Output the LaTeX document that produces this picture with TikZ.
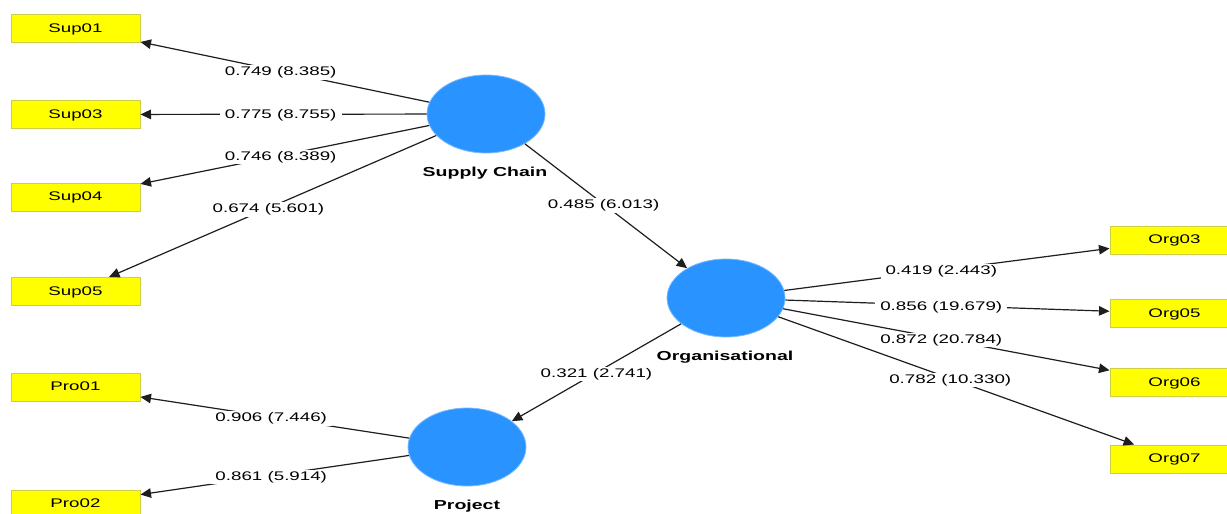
\documentclass[tikz,border=0pt]{standalone}
\usepackage{fontspec}
\setmainfont{Liberation Sans}
\newfontfamily\stretchfont[FakeStretch=1.5]{Liberation Sans}
\usetikzlibrary{shapes.geometric,arrows.meta,calc}
\definecolor{lvblue}{RGB}{41,148,255}
\definecolor{lvedge}{RGB}{120,185,255}
\definecolor{indyel}{RGB}{255,255,0}
\definecolor{indedge}{RGB}{205,205,70}
\definecolor{linecol}{RGB}{30,30,30}
\begin{document}
\begin{tikzpicture}[x=1pt,y=-1pt,
  lv/.style={ellipse, fill=lvblue, draw=lvedge, line width=0.8pt, minimum width=118pt, minimum height=78pt, inner sep=0pt},
  ind/.style={rectangle, fill=indyel, draw=indedge, line width=1pt, minimum width=129pt, minimum height=28pt, inner sep=0pt, text depth=1pt, font=\stretchfont\fontsize{12.5}{14}\selectfont},
  lvname/.style={font=\stretchfont\bfseries\fontsize{13}{15}\selectfont, inner sep=1pt},
  lbl/.style={fill=white, inner xsep=5pt, inner ysep=1.5pt, yshift=-1.5pt, font=\stretchfont\fontsize{12.5}{14}\selectfont},
  conn/.style={draw=linecol, line width=1.2pt, -{Triangle[length=10.5pt,width=9.5pt]}}]
\clip (0,0) rectangle (1227,514);
\fill[white] (0,0) rectangle (1227,514);
% latent variables
\node[lv] (sc) at (486,114) {};
\node[lv] (org) at (726,298) {};
\node[lv] (pro) at (467,447) {};
\node[lvname] (scn) at (485,173) {Supply Chain};
\node[lvname] (orgn) at (725,357) {Organisational};
\node[lvname] (pron) at (467,506) {Project};
% indicators
\node[ind] (sup01) at (75.5,28.5) {Sup01};
\node[ind] (sup03) at (75.5,114.5) {Sup03};
\node[ind] (sup04) at (75.5,197) {Sup04};
\node[ind] (sup05) at (75.5,291.5) {Sup05};
\node[ind] (pro01) at (75.5,387) {Pro01};
\node[ind] (pro02) at (75.5,504) {Pro02};
\node[ind] (org03) at (1174.5,240) {Org03};
\node[ind] (org05) at (1174.5,313.5) {Org05};
\node[ind] (org06) at (1174.5,382.5) {Org06};
\node[ind] (org07) at (1174.5,459) {Org07};
% connectors
\draw[conn] (sc) -- (sup01);
\draw[conn] (sc) -- (sup03);
\draw[conn] (sc) -- (sup04);
\draw[conn] (sc) -- (sup05);
\draw[conn] (sc) -- (org);
\draw[conn] (org) -- (pro);
\draw[conn] (pro) -- (pro01);
\draw[conn] (pro) -- (pro02);
\draw[conn] (org) -- (org03);
\draw[conn] (org) -- (org05);
\draw[conn] (org) -- (org06);
\draw[conn] (org) -- (org07);
% labels
\node[lbl] (l1) at ($(sc)!0.5!(sup01)$) {0.749 (8.385)};
\node[lbl] (l2) at ($(sc)!0.5!(sup03)$) {0.775 (8.755)};
\node[lbl] (l3) at ($(sc)!0.5!(sup04)$) {0.746 (8.389)};
\node[lbl] (l4) at ($(sc)!0.53!(sup05)$) {0.674 (5.601)};
\node[lbl] (l5) at ($(sc)!0.49!(org)$) {0.485 (6.013)};
\node[lbl] (l6) at ($(org)!0.5!(pro)$) {0.321 (2.741)};
\node[lbl] (l7) at ($(pro)!0.5!(pro01)$) {0.906 (7.446)};
\node[lbl] (l8) at ($(pro)!0.5!(pro02)$) {0.861 (5.914)};
\node[lbl] (l9) at ($(org)!0.48!(org03)$) {0.419 (2.443)};
\node[lbl] (l10) at ($(org)!0.48!(org05)$) {0.856 (19.679)};
\node[lbl] (l11) at ($(org)!0.48!(org06)$) {0.872 (20.784)};
\node[lbl] (l12) at ($(org)!0.5!(org07)$) {0.782 (10.330)};
\end{tikzpicture}
\end{document}
